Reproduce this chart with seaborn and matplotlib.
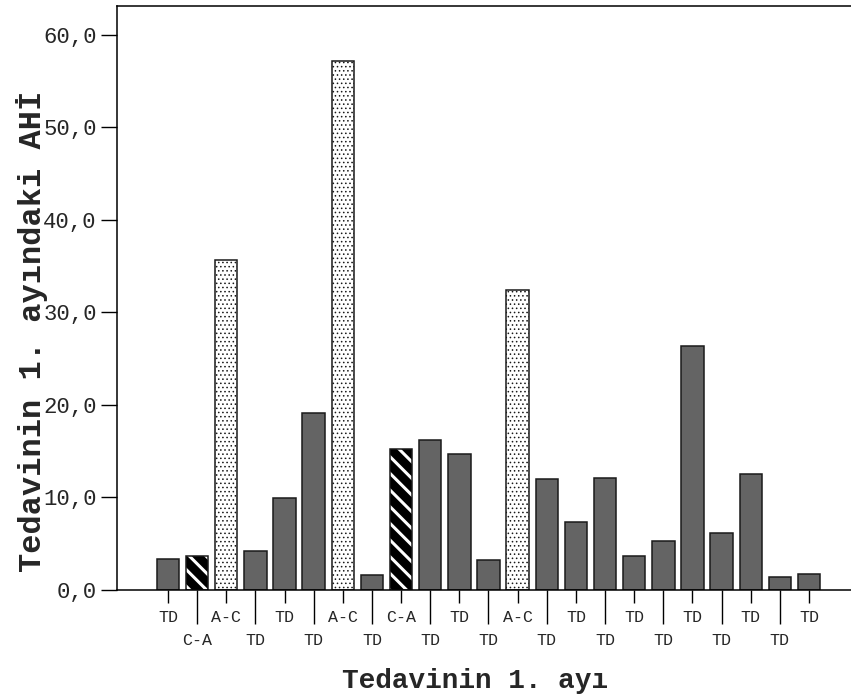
import matplotlib
matplotlib.use("Agg")
import matplotlib.pyplot as plt
from matplotlib.patches import Rectangle
import seaborn as sns
import pandas as pd

# ---- data ----
groups = ['TD', 'C-A', 'A-C', 'TD', 'TD', 'TD', 'A-C', 'TD', 'C-A', 'TD', 'TD', 'TD',
          'A-C', 'TD', 'TD', 'TD', 'TD', 'TD', 'TD', 'TD', 'TD', 'TD', 'TD']
values = [3.3, 3.6, 35.6, 4.2, 9.9, 19.1, 57.1, 1.6, 15.2, 16.2, 14.6, 3.2,
          32.4, 11.9, 7.3, 12.1, 3.6, 5.2, 26.3, 6.1, 12.5, 1.3, 1.7]
y_ticks = [0, 10, 20, 30, 40, 50, 60]
y_tick_labels = ['0,0', '10,0', '20,0', '30,0', '40,0', '50,0', '60,0']
x_label = 'Tedavinin 1. ayı'
y_label = 'Tedavinin 1. ayındaki AHİ'

cases = [str(i + 1) for i in range(len(values))]
df = pd.DataFrame({'case': cases, 'AHI': values, 'grup': groups})

sns.set_theme(style='white')
plt.rcParams['font.family'] = ['Liberation Mono', 'DejaVu Sans Mono', 'DejaVu Sans']

fig = plt.figure(figsize=(8.51, 6.97), dpi=100)
ax = fig.add_axes([117 / 851, 1 - 589.5 / 697, 1 - 117 / 851 + 0.002, (589.5 - 6) / 697])

sns.barplot(data=df, x='case', y='AHI', order=cases, color='#646464',
            width=0.77, errorbar=None, edgecolor='#1a1a1a', linewidth=1.1,
            saturation=1, ax=ax)

bars = sorted(ax.patches, key=lambda p: p.get_x())
for p, g in zip(bars, groups):
    if g == 'TD':
        p.set_facecolor('#646464')
        p.set_edgecolor('#1a1a1a')
    elif g == 'A-C':
        p.set_facecolor('white')
        p.set_edgecolor('#1a1a1a')
        p.set_hatch('....')
        if hasattr(p, 'set_hatch_linewidth'):
            p.set_hatch_linewidth(0.6)
    else:  # C-A
        p.set_facecolor('black')
        p.set_edgecolor('white')
        p.set_linewidth(0)
        p.set_hatch('\\\\')
        if hasattr(p, 'set_hatch_linewidth'):
            p.set_hatch_linewidth(2.2)
        ax.add_patch(Rectangle((p.get_x(), p.get_y()), p.get_width(), p.get_height(),
                               fill=False, edgecolor='#1a1a1a', linewidth=1.1, zorder=p.get_zorder() + 0.1))

# axes limits
ax.set_ylim(0, 63.1)
ax.set_xlim(-1.75, 23.5)

# y axis
ax.set_yticks(y_ticks, labels=y_tick_labels)
ax.tick_params(axis='y', which='major', direction='out', length=11.5, width=1.0,
               pad=3, labelsize=16, color='black', left=True)

# x axis: staggered labels
pos = list(range(len(values)))
ax.set_xticks(pos[0::2], labels=groups[0::2])
ax.set_xticks(pos[1::2], labels=groups[1::2], minor=True)
ax.tick_params(axis='x', which='major', direction='out', length=9.5, width=1.0,
               pad=5.2, labelsize=12, color='black', bottom=True)
ax.tick_params(axis='x', which='minor', direction='out', length=24.8, width=1.0,
               pad=6.8, labelsize=12, color='black', bottom=True)

for s in ['left', 'bottom', 'top']:
    ax.spines[s].set_visible(True)
    ax.spines[s].set_color('black')
    ax.spines[s].set_linewidth(1.1)
ax.spines['right'].set_visible(False)

ax.set_xlabel(x_label, fontsize=20, fontweight='bold')
ax.set_ylabel(y_label, fontsize=23, fontweight='bold')
ax.xaxis.set_label_coords(0.486, -0.135)
ax.yaxis.set_label_coords(-0.094, 0.443)

fig.savefig('out.png', dpi=100)
